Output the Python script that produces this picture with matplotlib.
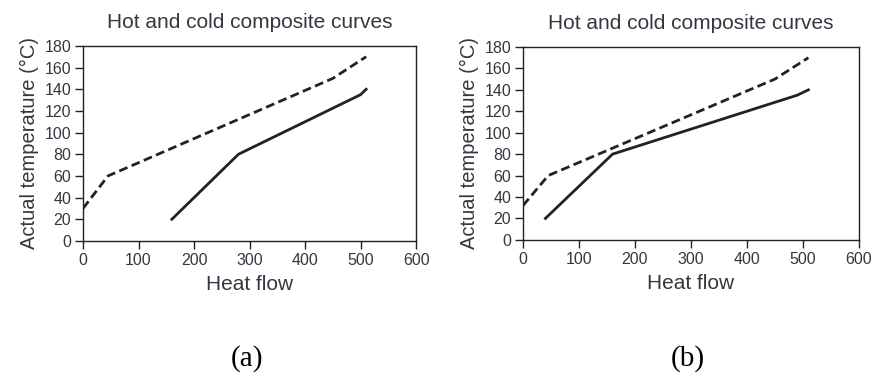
import numpy as np
import matplotlib.pyplot as plt

plt.rcParams['font.family'] = ['Liberation Sans', 'DejaVu Sans']

# panel (a)
hot_a_x = [0, 45, 450, 510]
hot_a_y = [30, 60, 150, 170]
cold_a_x = [160, 280, 500, 510]
cold_a_y = [20, 80, 135, 140]

# panel (b)
hot_b_x = [0, 45, 450, 510]
hot_b_y = [32, 60, 150, 170]
cold_b_x = [40, 160, 490, 510]
cold_b_y = [20, 80, 135, 140]

xticks = [0, 100, 200, 300, 400, 500, 600]
yticks = [0, 20, 40, 60, 80, 100, 120, 140, 160, 180]

txt = '#333840'

fig = plt.figure(figsize=(8.72, 3.73), dpi=100)
ax1 = fig.add_axes([0.0952, 0.354, 0.382, 0.523])
ax2 = fig.add_axes([0.5998, 0.357, 0.385, 0.517])

panels = [(ax1, hot_a_x, hot_a_y, cold_a_x, cold_a_y, '(a)'),
          (ax2, hot_b_x, hot_b_y, cold_b_x, cold_b_y, '(b)')]

for ax, hx, hy, cx, cy, lab in panels:
    ax.plot(hx, hy, color='#222222', lw=2, ls=(0, (3.2, 1.6)))
    ax.plot(cx, cy, color='#222222', lw=2)
    ax.set_xlim(0, 600)
    ax.set_ylim(0, 180)
    ax.set_xticks(xticks)
    ax.set_yticks(yticks)
    ax.tick_params(direction='out', length=5.5, width=1, labelsize=11.5,
                   labelcolor=txt, color='#222222', pad=3)
    for s in ax.spines.values():
        s.set_linewidth(1)
        s.set_color('#222222')
    ax.set_title('Hot and cold composite curves', fontsize=15, color=txt, pad=13)
    ax.set_xlabel('Heat flow', fontsize=15, color=txt, labelpad=5)
    ax.set_ylabel('Actual temperature (\u00b0C)', fontsize=14.5, color=txt, labelpad=4)
    bb = ax.get_position()
    fig.text((bb.x0 + bb.x1) / 2 - 0.003, 0.038, lab, ha='center', va='center',
             fontsize=21, family=['Liberation Serif'], color='black')

fig.savefig('out.png', dpi=100)
